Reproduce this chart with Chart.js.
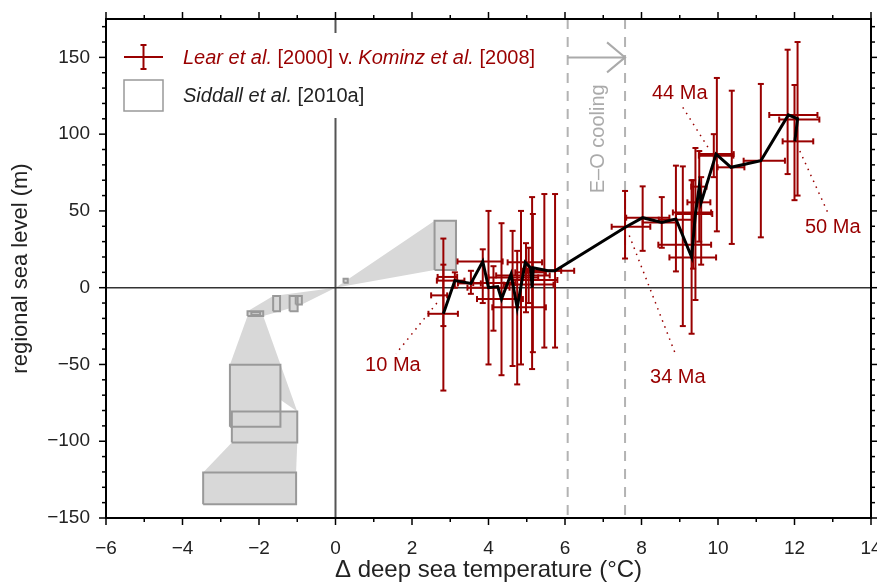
<!DOCTYPE html>
<html>
<head>
<meta charset="utf-8">
<script src="https://cdn.jsdelivr.net/npm/chart.js@4.4.1/dist/chart.umd.min.js"></script>
<style>
  html, body { margin: 0; padding: 0; background: #fff; }
</style>
</head>
<body>
<canvas id="seaChart" width="877" height="584"></canvas>
<script>
// Lear et al. [2000] deep sea temperature vs. Kominz et al. [2008] sea level
var learTemp   = [2.82, 2.82, 2.71, 3.12, 3.54, 3.85, 4.00, 4.13, 4.34, 4.63, 4.75, 4.85, 4.98, 5.05, 5.14, 5.16, 5.46, 5.74,
                  7.57, 8.03, 8.53, 8.90, 9.08, 9.31, 9.35, 9.41, 9.51, 9.56, 9.89, 9.97, 10.36, 11.12, 11.82, 12.08, 12.00];
var learSea    = [-17, 7, -5, 4.6, 2.8, 17.1, 0, 3, -7.4, 6.7, -12.8, 8, 16.5, 5, 2, 10, 11, 11,
                  39.7, 45.6, 42.5, 44.3, 28, 19.7, 49, 48, 65.8, 55.6, 86, 87, 78.4, 82.7, 112.5, 109.5, 95.3];
var learTempLo = [2.43, 2.67, 2.50, 2.65, 3.20, 3.19, 3.45, 3.60, 3.70, 4.00, 4.10, 4.20, 4.50, 4.60, 4.40, 4.70, 4.90, 5.02,
                  7.22, 7.60, 8.03, 8.45, 8.44, 8.73, 8.82, 8.90, 9.30, 9.20, 9.50, 9.51, 9.99, 10.67, 11.34, 11.60, 11.69];
var learTempHi = [3.20, 3.18, 2.92, 3.37, 3.80, 4.37, 4.55, 4.70, 4.90, 5.30, 5.50, 5.60, 5.40, 5.80, 5.70, 5.50, 5.90, 6.24,
                  8.23, 8.73, 8.90, 9.35, 9.82, 9.95, 9.82, 9.85, 9.70, 9.80, 10.40, 10.41, 10.69, 11.75, 12.60, 12.65, 12.49];
var learSeaLo  = [-67, -25, -5, 0, -4, -10, -50, -28, -57, -51, -63, -50, -16, -10, -53, -42, -39, -39,
                  19, 24, 26, 10.6, -25, -30, 12.4, -8, 30, 15, 72, 36.7, 28.5, 32.8, 74, 60, 57];
var learSeaHi  = [15, 32, -5, 10, 11, 25, 50, 14, 42, 37, 24, 50, 29, 26, 59, 48, 61, 61,
                  63, 66, 59, 79.5, 79, 70, 70, 91, 89, 72, 100, 136.6, 128.3, 132.7, 155, 160, 132];

// black path through the record, 10 Ma to 50 Ma
var pathTemp = [2.82, 3.12, 3.54, 3.85, 4.00, 4.24, 4.34, 4.59, 4.75, 4.96, 5.10, 5.14, 5.17, 5.55, 5.74,
                7.60, 8.03, 8.53, 8.90, 9.31, 9.41, 9.51, 9.56, 9.95, 10.34, 11.12, 11.84, 12.08, 12.01];
var pathSea  = [-17, 4.6, 2.8, 17.1, 0, 0.7, -7.4, 8.9, -13, 16.5, 13, 0, 13, 11, 11,
                39.7, 45.6, 42.5, 44.8, 20, 48, 66, 55.6, 87, 78.4, 82.7, 112.5, 110, 95.3];

// Siddall et al. [2010a] boxes
var boxTempLo = [2.59, 0.21, -1.63, -1.20, -1.04, -2.30, -2.20, -2.76, -2.71, -3.46];
var boxTempHi = [3.15, 0.32, -1.45, -0.99, -0.88, -1.89, -1.97, -1.44, -1.00, -1.03];
var boxSeaLo  = [11.5, 3.3, -15.4, -15.4, -10.9, -18.4, -17.8, -90.6, -100.8, -141];
var boxSeaHi  = [43.6, 5.9, -5.4, -5.4, -5.4, -15.4, -16.0, -50.2, -80.6, -120.3];

// shaded links between the boxes
var wedgeWarm  = [[0, 0], [2.59, 43.6], [2.59, 11.5]];
var wedgeShelf = [[0, 0], [-1.63, -5.4], [-2.30, -15.4], [-2.30, -18.4], [-1.89, -18.4], [-1.45, -15.4], [-0.88, -10.9]];
var wedgeUpper = [[-2.30, -18.4], [-2.76, -50.2], [-1.00, -80.6], [-1.89, -18.4]];
var wedgeLower = [[-2.71, -100.8], [-3.46, -120.3], [-1.03, -120.3], [-1.00, -100.8]];

// age annotations and their dotted leaders
var ageText     = ['10 Ma', '34 Ma', '44 Ma', '50 Ma'];
var ageTextTemp = [1.50, 8.95, 9.00, 13.00];
var ageTextSea  = [-50.8, -58.3, 126.4, 39.1];
var leaderTemp0 = [2.65, 7.68, 9.08, 12.14];
var leaderSea0  = [-10, 34, 117.5, 89];
var leaderTemp1 = [1.58, 8.90, 9.75, 12.87];
var leaderSea1  = [-43, -44, 91, 49];

// Eocene-Oligocene cooling step
var coolingBounds = [6.07, 7.57];
var coolingArrowSea = 150;
var coolingLabel = 'E\u2013O cooling';
var coolingLabelTemp = 6.87;
var coolingLabelSea = 97;

var RED = '#990000';
var FONT = '"Liberation Sans", Arial, sans-serif';

function minus(v) {
    return v < 0 ? '\u2212' + Math.abs(v) : String(v);
}

function toPoints(pairs) {
    return pairs.map(p => ({x: p[0], y: p[1]}));
}

// no label overhang padding: keep the plot box where the layout puts it
function noOverhang(scale) {
    scale.paddingLeft = 0;
    scale.paddingRight = 0;
    scale.paddingTop = 0;
    scale.paddingBottom = 0;
}

var datasets = [];

// path on top
datasets.push({
    data: pathTemp.map((t, i) => ({x: t, y: pathSea[i]})),
    borderColor: '#000',
    borderWidth: 3,
    pointRadius: 0,
    fill: false,
    tension: 0
});

boxTempLo.forEach(function (lo, i) {
    var hi = boxTempHi[i];
    datasets.push({
        data: toPoints([[lo, boxSeaLo[i]], [hi, boxSeaLo[i]], [hi, boxSeaHi[i]], [lo, boxSeaHi[i]], [lo, boxSeaLo[i]]]),
        borderColor: '#999999',
        borderWidth: 2,
        backgroundColor: '#d8d8d8',
        pointRadius: 0,
        fill: 'shape',
        tension: 0
    });
});

[wedgeWarm, wedgeShelf, wedgeUpper, wedgeLower].forEach(function (w) {
    datasets.push({
        data: toPoints(w.concat([w[0]])),
        borderColor: 'rgba(0,0,0,0)',
        borderWidth: 1,
        backgroundColor: '#d8d8d8',
        pointRadius: 0,
        fill: 'shape',
        tension: 0
    });
});

function seg(ctx, x0, y0, x1, y1) {
    ctx.beginPath();
    ctx.moveTo(x0, y0);
    ctx.lineTo(x1, y1);
    ctx.stroke();
}

var chartDecor = {
    id: 'chartDecor',
    beforeDatasetsDraw(chart) {
        var ctx = chart.ctx, a = chart.chartArea, x = chart.scales.x, y = chart.scales.y;
        ctx.save();
        ctx.strokeStyle = '#b3b3b3';
        ctx.lineWidth = 2;
        ctx.setLineDash([10, 8]);
        coolingBounds.forEach(function (t) {
            var px = x.getPixelForValue(t);
            seg(ctx, px, a.top, px, a.bottom);
        });
        ctx.setLineDash([]);
        // zero lines
        ctx.strokeStyle = '#555';
        ctx.lineWidth = 2;
        var x0 = x.getPixelForValue(0);
        seg(ctx, x0, a.top, x0, a.bottom);
        ctx.strokeStyle = '#333';
        ctx.lineWidth = 1.5;
        var y0 = y.getPixelForValue(0);
        seg(ctx, a.left, y0, a.right, y0);
        ctx.restore();
    },
    beforeDatasetDraw(chart, args) {
        if (args.index !== 0) return;
        var ctx = chart.ctx, x = chart.scales.x, y = chart.scales.y;
        var cap = 3;
        ctx.save();
        ctx.strokeStyle = RED;
        ctx.lineWidth = 2;
        learTemp.forEach(function (t, i) {
            var px = x.getPixelForValue(t), py = y.getPixelForValue(learSea[i]);
            var pxLo = x.getPixelForValue(learTempLo[i]), pxHi = x.getPixelForValue(learTempHi[i]);
            seg(ctx, pxLo, py, pxHi, py);
            seg(ctx, pxLo, py - cap, pxLo, py + cap);
            seg(ctx, pxHi, py - cap, pxHi, py + cap);
            if (learSeaLo[i] !== learSeaHi[i]) {
                var pyLo = y.getPixelForValue(learSeaLo[i]), pyHi = y.getPixelForValue(learSeaHi[i]);
                seg(ctx, px, pyLo, px, pyHi);
                seg(ctx, px - cap, pyLo, px + cap, pyLo);
                seg(ctx, px - cap, pyHi, px + cap, pyHi);
            }
        });
        ctx.restore();
    },
    afterDatasetsDraw(chart) {
        var ctx = chart.ctx, x = chart.scales.x, y = chart.scales.y;
        ctx.save();
        // dotted leaders
        ctx.strokeStyle = RED;
        ctx.lineWidth = 1.5;
        ctx.setLineDash([1.5, 5]);
        ageText.forEach(function (s, i) {
            seg(ctx, x.getPixelForValue(leaderTemp0[i]), y.getPixelForValue(leaderSea0[i]),
                x.getPixelForValue(leaderTemp1[i]), y.getPixelForValue(leaderSea1[i]));
        });
        ctx.setLineDash([]);
        ctx.fillStyle = RED;
        ctx.font = '20px ' + FONT;
        ctx.textAlign = 'center';
        ctx.textBaseline = 'middle';
        ageText.forEach(function (s, i) {
            ctx.fillText(s, x.getPixelForValue(ageTextTemp[i]), y.getPixelForValue(ageTextSea[i]));
        });
        // cooling arrow
        var ax0 = x.getPixelForValue(coolingBounds[0]), ax1 = x.getPixelForValue(coolingBounds[1]);
        var ay = y.getPixelForValue(coolingArrowSea);
        ctx.strokeStyle = '#aaaaaa';
        ctx.lineWidth = 2;
        seg(ctx, ax0, ay, ax1, ay);
        ctx.beginPath();
        ctx.moveTo(ax1 - 18, ay - 15);
        ctx.lineTo(ax1, ay);
        ctx.lineTo(ax1 - 18, ay + 15);
        ctx.stroke();
        ctx.translate(x.getPixelForValue(coolingLabelTemp), y.getPixelForValue(coolingLabelSea));
        ctx.rotate(-Math.PI / 2);
        ctx.fillStyle = '#aaaaaa';
        ctx.fillText(coolingLabel, 0, 0);
        ctx.restore();
    },
    afterDraw(chart) {
        var ctx = chart.ctx, a = chart.chartArea, x = chart.scales.x, y = chart.scales.y;
        ctx.save();
        // ticks on all four sides
        ctx.strokeStyle = '#000';
        ctx.lineWidth = 1.5;
        for (var t = -6; t <= 14; t++) {
            var px = x.getPixelForValue(t);
            var len = t % 2 === 0 ? 7 : 4;
            seg(ctx, px, a.bottom, px, a.bottom + len);
            seg(ctx, px, a.top, px, a.top - len);
        }
        for (var s = -150; s <= 170; s += 10) {
            var py = y.getPixelForValue(s);
            var l2 = s % 50 === 0 ? 7 : 4;
            seg(ctx, a.left, py, a.left - l2, py);
            seg(ctx, a.right, py, a.right + l2, py);
        }
        ctx.lineWidth = 2;
        ctx.strokeRect(a.left, a.top, a.right - a.left, a.bottom - a.top);

        // legend
        var lx = a.left, ly = a.top;
        ctx.fillStyle = '#fff';
        ctx.fillRect(lx + 6, ly + 14, 440, 85);
        ctx.strokeStyle = RED;
        ctx.lineWidth = 2;
        seg(ctx, lx + 18, ly + 38, lx + 57, ly + 38);
        seg(ctx, lx + 37.5, ly + 26, lx + 37.5, ly + 50);
        seg(ctx, lx + 34.5, ly + 26, lx + 40.5, ly + 26);
        seg(ctx, lx + 34.5, ly + 50, lx + 40.5, ly + 50);
        ctx.strokeStyle = '#999999';
        ctx.lineWidth = 1.5;
        ctx.strokeRect(lx + 18, ly + 61, 39, 31);

        ctx.textBaseline = 'middle';
        ctx.textAlign = 'left';
        function runs(list, tx, ty) {
            list.forEach(function (r) {
                ctx.font = (r[1] ? 'italic ' : '') + '20px ' + FONT;
                ctx.fillStyle = r[2];
                ctx.fillText(r[0], tx, ty);
                tx += ctx.measureText(r[0]).width;
            });
        }
        runs([['Lear et al.', true, RED], [' [2000] v. ', false, RED],
              ['Kominz et al.', true, RED], [' [2008]', false, RED]], lx + 77, ly + 39);
        runs([['Siddall et al.', true, '#222'], [' [2010a]', false, '#222']], lx + 77, ly + 77);
        ctx.restore();
    }
};

Chart.defaults.font.family = FONT;

new Chart(document.getElementById('seaChart'), {
    type: 'line',
    data: { datasets: datasets },
    options: {
        responsive: false,
        animation: false,
        layout: {
            padding: { top: 19, right: 6, bottom: 0, left: 0 },
            autoPadding: false
        },
        plugins: {
            legend: { display: false },
            tooltip: { enabled: false },
            filler: { drawTime: 'beforeDatasetsDraw' }
        },
        scales: {
            x: {
                type: 'linear',
                min: -6,
                max: 14,
                afterFit: function (scale) { scale.height = 66; noOverhang(scale); },
                grid: { display: false, drawTicks: false },
                border: { display: false },
                ticks: {
                    stepSize: 2,
                    padding: 19,
                    color: '#222',
                    font: { size: 19 },
                    maxRotation: 0,
                    callback: function (v) { return minus(v); }
                },
                title: {
                    display: true,
                    text: '\u0394 deep sea temperature (\u00b0C)',
                    color: '#222',
                    font: { size: 24 },
                    padding: { top: 0, bottom: -1 }
                }
            },
            y: {
                type: 'linear',
                min: -150,
                max: 175,
                afterFit: function (scale) { scale.width = 106; noOverhang(scale); },
                grid: { display: false, drawTicks: false },
                border: { display: false },
                ticks: {
                    stepSize: 50,
                    includeBounds: false,
                    padding: 16,
                    color: '#222',
                    font: { size: 19 },
                    callback: function (v) { return v % 50 === 0 ? minus(v) : null; }
                },
                title: {
                    display: true,
                    text: 'regional sea level (m)',
                    color: '#222',
                    font: { size: 22 },
                    padding: { top: 8, bottom: 0 }
                }
            }
        }
    },
    plugins: [chartDecor]
});
</script>
</body>
</html>
